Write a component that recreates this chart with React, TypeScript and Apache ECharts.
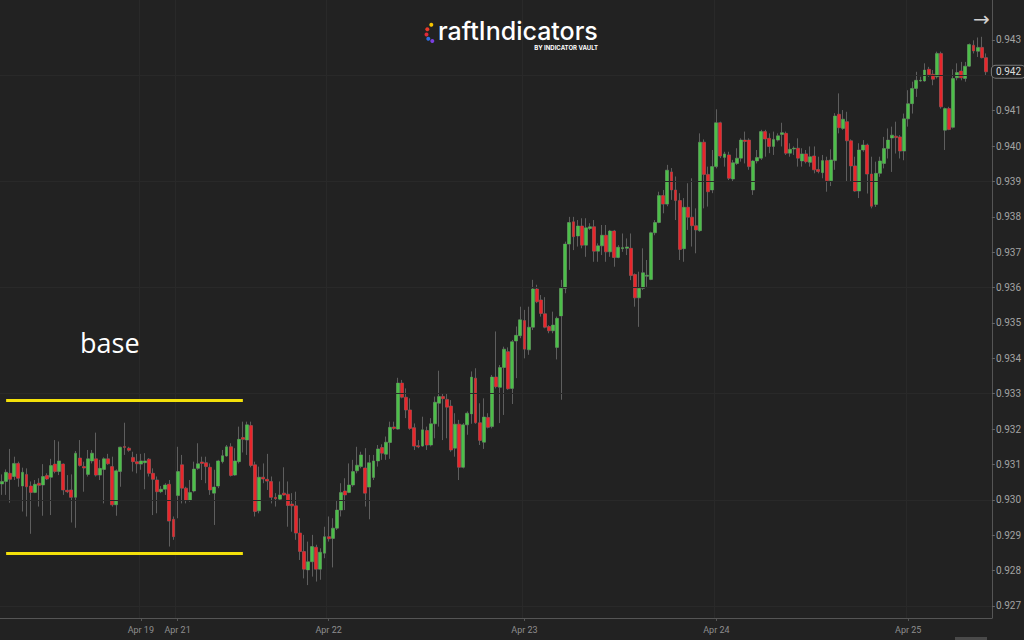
import React, { useEffect, useRef } from "react";
import * as echarts from "echarts";

// x-axis day labels and the category index where each day starts
const dayLabels = ["Apr 19", "Apr 21", "Apr 22", "Apr 23", "Apr 24", "Apr 25"];
const dayIndex = [34, 43, 80, 128, 175, 222];

// price axis
const yTicks = [0.927, 0.928, 0.929, 0.93, 0.931, 0.932, 0.933, 0.934, 0.935, 0.936, 0.937, 0.938, 0.939, 0.94, 0.941, 0.942, 0.943];
const gridLevels = [0.927, 0.93, 0.933, 0.936, 0.939, 0.942];
const yMin = 0.92666;
const yMax = 0.94413;

// "base" range (yellow lines)
const baseHigh = 0.93282;
const baseLow = 0.9285;
const baseFrom = 1;
const baseTo = 59;

// 30-minute candles: [open, close, low, high]
const ohlc: number[][] = [
  [.93045,.93052,.93014,.93072],[.93052,.93078,.93014,.93086],[.93075,.93058,.92992,.93144],[.93066,.93103,.93056,.93122],
  [.93103,.93061,.93037,.93108],[.93039,.93078,.92967,.93091],[.93072,.93037,.92953,.93089],[.93039,.93021,.92904,.93052],
  [.93021,.93044,.93019,.93056],[.93047,.93041,.92981,.93061],[.93042,.93066,.92955,.93101],[.93069,.93059,.93056,.93075],
  [.93064,.93097,.92957,.93116],[.93101,.9308,.93075,.93169],[.9308,.9311,.9307,.93165],[.93101,.93028,.93014,.93103],
  [.93027,.93023,.93019,.9307],[.93028,.93007,.92936,.93072],[.93007,.93132,.92921,.93138],[.93118,.93097,.93094,.93169],
  [.93094,.9309,.93023,.93108],[.93072,.93116,.93066,.93141],[.9311,.93132,.93103,.93141],[.93116,.9307,.93066,.9319],
  [.9307,.93089,.93056,.93113],[.93086,.93116,.9299,.9312],[.93116,.93102,.93099,.9313],[.93094,.92986,.92981,.93122],
  [.92986,.93082,.92955,.93086],[.9308,.93149,.93037,.9315],[.93151,.93148,.93127,.93218],[.93146,.9314,.93136,.9315],
  [.9312,.93108,.9308,.93136],[.93108,.93102,.93075,.9313],[.93101,.9311,.93085,.9313],[.93105,.9311,.9303,.93132],
  [.93115,.93075,.93066,.93118],[.93075,.93058,.92957,.93089],[.93056,.93023,.92962,.93066],[.93023,.9303,.93019,.93039],
  [.9303,.93042,.93014,.93047],[.93044,.9294,.92868,.93056],[.92945,.92896,.92887,.92953],[.93012,.9308,.92948,.9315],
  [.93099,.93033,.9299,.93127],[.93033,.92998,.9299,.93037],[.92998,.93021,.92995,.93056],[.93025,.93087,.93021,.93108],
  [.93089,.93102,.93085,.9316],[.93107,.93103,.93056,.93122],[.93105,.93094,.93047,.93122],[.93092,.93028,.93014,.93103],
  [.93019,.93036,.92929,.93085],[.93039,.9311,.93033,.93113],[.93108,.93125,.93103,.93141],[.93124,.9315,.93122,.93155],
  [.9315,.93069,.93066,.9316],[.9307,.9311,.93068,.93146],[.93108,.93171,.93103,.93207],[.93176,.93171,.93134,.93221],
  [.93169,.93212,.93127,.93221],[.9321,.93097,.93092,.93221],[.93099,.92967,.92953,.93108],[.92969,.93064,.92962,.93094],
  [.93064,.93059,.93047,.93103],[.93058,.93053,.93028,.9313],[.93052,.93007,.9299,.93066],[.93007,.93003,.92981,.93019],
  [.93002,.93014,.93,.93052],[.93019,.93014,.93012,.93092],[.93016,.92984,.92924,.93052],[.92988,.92983,.9291,.93019],
  [.92983,.92906,.92887,.93023],[.92906,.92854,.9283,.92948],[.92854,.92804,.92778,.92901],[.92802,.92825,.92759,.92882],
  [.92825,.92868,.92783,.92901],[.92866,.92804,.92769,.92873],[.92804,.92852,.92774,.92863],[.92849,.92896,.92835,.92924],
  [.92896,.9289,.92882,.92953],[.92891,.9292,.92809,.92948],[.9292,.92971,.92915,.92999],[.92971,.93021,.92953,.93047],
  [.93025,.93014,.92971,.93061],[.93021,.93042,.93019,.93103],[.93042,.9308,.93037,.93113],[.93082,.93098,.93075,.9315],
  [.93094,.93127,.93089,.93136],[.9309,.93019,.92981,.93146],[.93036,.93105,.92945,.93127],[.93063,.9311,.93056,.93127],
  [.9311,.93144,.93094,.93155],[.93148,.93132,.93113,.93157],[.93129,.93163,.93113,.93179],[.93162,.93205,.93116,.93221],
  [.93206,.93202,.93198,.93221],[.932,.9333,.93198,.93345],[.9333,.9329,.93287,.93339],[.9329,.93254,.93231,.93315],
  [.93254,.93202,.93198,.93287],[.93204,.93152,.93141,.93216],[.93153,.9315,.93146,.93169],[.93152,.93198,.9315,.93235],
  [.93196,.93155,.93141,.93207],[.93155,.93215,.93151,.93231],[.93215,.93276,.93174,.93292],[.93273,.93292,.93207,.93365],
  [.93292,.93286,.93169,.93301],[.93284,.93262,.93174,.93301],[.93265,.93141,.93136,.93282],[.93146,.93214,.93122,.93245],
  [.93214,.93092,.93056,.93226],[.93092,.93212,.93089,.93217],[.93212,.93245,.93184,.9325],[.93243,.93347,.93215,.93363],
  [.93344,.93218,.93215,.93372],[.93218,.93168,.93155,.93273],[.93163,.93234,.93144,.93287],[.93233,.93205,.93202,.93245],
  [.93207,.93347,.93202,.93353],[.93347,.9332,.93315,.93476],[.93318,.93374,.93217,.93381],[.93374,.93426,.9324,.93433],
  [.93419,.93314,.93311,.93431],[.93315,.93447,.93271,.93452],[.93449,.93465,.93344,.9349],[.93464,.93509,.93457,.93546],
  [.93507,.93426,.934,.93537],[.93424,.93488,.9341,.93546],[.93488,.93596,.9348,.93622],[.93596,.9356,.93556,.93608],
  [.93565,.93527,.93518,.93579],[.93526,.93488,.93485,.93573],[.9349,.93478,.93471,.93494],[.93478,.93494,.93471,.93532],
  [.93431,.93513,.93397,.93518],[.9352,.93598,.93283,.93622],[.93598,.93723,.93584,.9373],[.93723,.93784,.9365,.938],
  [.93786,.93744,.93706,.938],[.93746,.93774,.93716,.93791],[.93774,.9372,.93711,.93796],[.9372,.93769,.93687,.93796],
  [.93767,.93772,.93763,.93782],[.93772,.93703,.93673,.93791],[.93703,.93718,.93673,.93725],[.93718,.93748,.93692,.93777],
  [.93748,.93701,.93673,.93777],[.93701,.9376,.93687,.93763],[.9376,.93685,.93659,.93763],[.93685,.93714,.93683,.9372],
  [.9371,.93713,.93701,.93753],[.93711,.93715,.93692,.93739],[.93711,.93634,.93621,.93753],[.93637,.93571,.93546,.9364],
  [.93571,.93598,.93489,.93645],[.93598,.93642,.93593,.93711],[.93632,.93635,.93602,.93678],[.93623,.93755,.93621,.93758],
  [.93755,.93784,.93748,.93791],[.93784,.9386,.93782,.93871],[.9386,.93836,.9381,.93876],[.93836,.93932,.9383,.93947],
  [.93927,.93876,.93848,.93938],[.93876,.93846,.93791,.93914],[.93846,.93708,.93678,.93867],[.9371,.93827,.93673,.93853],
  [.93827,.93799,.93763,.93895],[.93799,.93775,.93716,.93909],[.93775,.93763,.93697,.93824],[.93761,.94011,.93758,.94036],
  [.94011,.9392,.93824,.94019],[.9392,.93871,.93829,.93942],[.93876,.93942,.93867,.93989],[.93942,.94066,.93937,.94104],
  [.94066,.93972,.93966,.94069],[.93968,.93978,.93942,.93984],[.93975,.93909,.93904,.93984],[.93907,.93953,.939,.93961],
  [.93951,.93966,.93947,.93994],[.93966,.94017,.93956,.94022],[.94017,.94013,.93951,.94041],[.94017,.93942,.93933,.94022],
  [.93876,.93958,.93862,.93961],[.93958,.93968,.93951,.93989],[.93966,.94041,.93961,.94046],[.94041,.9402,.9397,.94046],
  [.94022,.93999,.9398,.94036],[.93999,.94019,.93975,.94041],[.94017,.94029,.94013,.94036],[.94033,.94038,.93999,.94066],
  [.94036,.9398,.93975,.94041],[.9398,.93991,.9397,.94008],[.93992,.93994,.93975,.93999],[.93994,.93966,.93942,.94022],
  [.93958,.93978,.93942,.93994],[.93978,.93956,.93951,.93989],[.93954,.9397,.93942,.93999],[.93972,.93933,.93923,.93999],
  [.93934,.93928,.93923,.9397],[.93925,.93959,.93909,.93975],[.93959,.93902,.93871,.9397],[.93902,.93961,.93887,.93991],
  [.93959,.94085,.93933,.94093],[.9409,.94052,.94036,.94149],[.9405,.94076,.94046,.94102],[.94069,.94015,.939,.94097],
  [.94015,.93944,.939,.94019],[.93944,.93873,.93871,.9397],[.93873,.93989,.93853,.94008],[.93989,.94003,.93984,.94017],
  [.94003,.93921,.93866,.94007],[.93921,.9383,.93824,.9397],[.93835,.93923,.93828,.93956],[.93923,.93958,.93913,.9397],
  [.93951,.93993,.93937,.94026],[.93993,.94017,.93965,.9405],[.94023,.94031,.93927,.94055],[.94028,.94024,.93979,.94069],
  [.94026,.93986,.93965,.94031],[.93986,.94077,.9396,.94092],[.94077,.9412,.94055,.94158],[.9412,.94163,.94092,.94182],
  [.94163,.94186,.94139,.9421],[.94184,.94186,.94182,.94196],[.94184,.94215,.94182,.94234],[.94217,.94202,.94196,.94224],
  [.94203,.94189,.94172,.94215],[.94196,.94262,.94191,.94267],[.94262,.94111,.94106,.94267],[.94045,.94106,.93989,.94109],
  [.94106,.94047,.94045,.94111],[.94053,.94191,.9405,.94217],[.94193,.94208,.94186,.94234],[.94212,.94193,.94186,.94238],
  [.94191,.94226,.94182,.94238],[.94226,.94287,.94224,.9429],[.94285,.94269,.94262,.94299],[.94268,.94279,.94252,.94307],
  [.94279,.9425,.94248,.94309],[.9425,.9421,.94201,.94262],
];

// one empty slot after the last candle
const slotCount = ohlc.length + 1;
const categories = Array.from({ length: slotCount }, (_, i) => {
  const k = dayIndex.indexOf(i);
  return k >= 0 ? dayLabels[k] : "c" + i;
});
const isDay = (i: number) => dayIndex.indexOf(i) >= 0;
const lastClose = ohlc[ohlc.length - 1][1];
// the tick label hidden under the last-price tag
const yLabelValues = yTicks.filter((v) => v.toFixed(3) !== lastClose.toFixed(3));

const BG = "#222222";
const UP = "#4cbf49";
const DOWN = "#e8262b";
const WICK = "#5e5e5e";
const AXIS_FONT = "'Liberation Sans Narrow', Roboto, sans-serif";

export default function App() {
  const ref = useRef<HTMLDivElement>(null);
  useEffect(() => {
    if (!ref.current) return;
    const chart = echarts.init(ref.current, undefined, { renderer: "svg" });
    const option: any = {
      animation: false,
      backgroundColor: BG,
      grid: { left: 0, right: 24, top: 0, bottom: 22, containLabel: false },
      xAxis: {
        type: "category",
        data: categories,
        boundaryGap: true,
        axisLine: { show: true, lineStyle: { color: "#555555", width: 1 } },
        axisTick: { show: true, alignWithLabel: true, interval: (i: number) => isDay(i), length: 3, lineStyle: { color: "#555555" } },
        axisLabel: {
          interval: (i: number) => isDay(i),
          color: "#8e8e8e",
          fontSize: 9,
          fontFamily: AXIS_FONT,
          margin: 7,
        },
        splitLine: { show: true, interval: (i: number) => isDay(i), lineStyle: { color: "#292929", width: 1 } },
      },
      yAxis: {
        type: "value",
        position: "right",
        min: yMin,
        max: yMax,
        scale: true,
        axisLine: { show: true, lineStyle: { color: "#555555", width: 1 } },
        axisTick: { show: true, customValues: yTicks, length: 3, lineStyle: { color: "#666666" } },
        axisLabel: {
          customValues: yLabelValues,
          formatter: (v: number) => v.toFixed(3),
          color: "#a3a3a3",
          fontSize: 10,
          fontFamily: AXIS_FONT,
          margin: 4,
        },
        splitLine: { show: false },
      },
      series: [
        {
          name: "grid",
          type: "line",
          data: [],
          z: 1,
          markLine: {
            silent: true,
            precision: 5,
            symbol: ["none", "none"],
            label: { show: false },
            lineStyle: { color: "#292929", type: "solid", width: 1 },
            data: gridLevels.map((v) => ({ yAxis: v })),
          },
        },
        {
          name: "wicks",
          type: "candlestick",
          data: ohlc,
          barWidth: 3.4,
          z: 3,
          itemStyle: {
            color: "rgba(0,0,0,0)",
            color0: "rgba(0,0,0,0)",
            borderColor: WICK,
            borderColor0: WICK,
            borderWidth: 1,
          },
        },
        {
          name: "bodies",
          type: "candlestick",
          data: ohlc,
          barWidth: 3.4,
          z: 4,
          itemStyle: {
            color: UP,
            color0: DOWN,
            borderColor: UP,
            borderColor0: DOWN,
            borderWidth: 0,
          },
          markLine: {
            silent: true,
            precision: 5,
            symbol: ["none", "none"],
            label: { show: false },
            data: [
              [
                { coord: [baseFrom, baseHigh], lineStyle: { color: "#f4e10a", width: 3, type: "solid" } },
                { coord: [baseTo, baseHigh] },
              ],
              [
                { coord: [baseFrom, baseLow], lineStyle: { color: "#f4e10a", width: 3, type: "solid" } },
                { coord: [baseTo, baseLow] },
              ],
            ],
          },
        },
        {
          name: "price",
          type: "line",
          data: [],
          z: 6,
          markLine: {
            silent: true,
            precision: 5,
            symbol: ["none", "none"],
            lineStyle: { color: "rgba(0,0,0,0)", width: 1, type: "solid" },
            label: {
              show: true,
              position: "end",
              distance: 0,
              formatter: () => lastClose.toFixed(3),
              color: "#dddddd",
              fontSize: 10,
              fontFamily: AXIS_FONT,
              backgroundColor: BG,
              borderColor: "#7a7a7a",
              borderWidth: 1,
              borderRadius: 4,
              padding: [1, 4, 1, 4],
            },
            data: [{ yAxis: lastClose }],
          },
        },
      ],
      graphic: [
        { type: "text", left: 80, top: 329, style: { text: "base", fill: "#ffffff", font: "400 27px 'Open Sans', sans-serif" } },
        { type: "circle", shape: { cx: 431.3, cy: 24.7, r: 2 }, style: { fill: "#f5c400" } },
        { type: "circle", shape: { cx: 427.3, cy: 29.3, r: 2 }, style: { fill: "#ea3a2a" } },
        { type: "circle", shape: { cx: 426.5, cy: 34.5, r: 2 }, style: { fill: "#e02a3a" } },
        { type: "circle", shape: { cx: 428.3, cy: 38.8, r: 2 }, style: { fill: "#2f6fe0" } },
        { type: "circle", shape: { cx: 432.3, cy: 41, r: 2 }, style: { fill: "#7a3fe0" } },
        { type: "text", left: 438, top: 18, style: { text: "raftIndicators", fill: "#ffffff", font: "500 25px Inter, sans-serif" } },
        { type: "text", right: 426, top: 44, style: { text: "BY INDICATOR VAULT", fill: "#ffffff", font: "700 6px Inter, sans-serif" } },
        { type: "text", left: 973, top: 9, style: { text: "→", fill: "#d0d0d0", font: "20px 'DejaVu Sans', sans-serif" } },
        { type: "rect", shape: { x: 955, y: 637, width: 32, height: 3 }, style: { fill: "#4a4a4a" } },
      ],
    };
    chart.setOption(option);
    return () => chart.dispose();
  }, []);
  return (
    <div
      ref={ref}
      style={{ position: "fixed", left: 0, top: 0, width: 1024, height: 640, background: BG }}
    />
  );
}
